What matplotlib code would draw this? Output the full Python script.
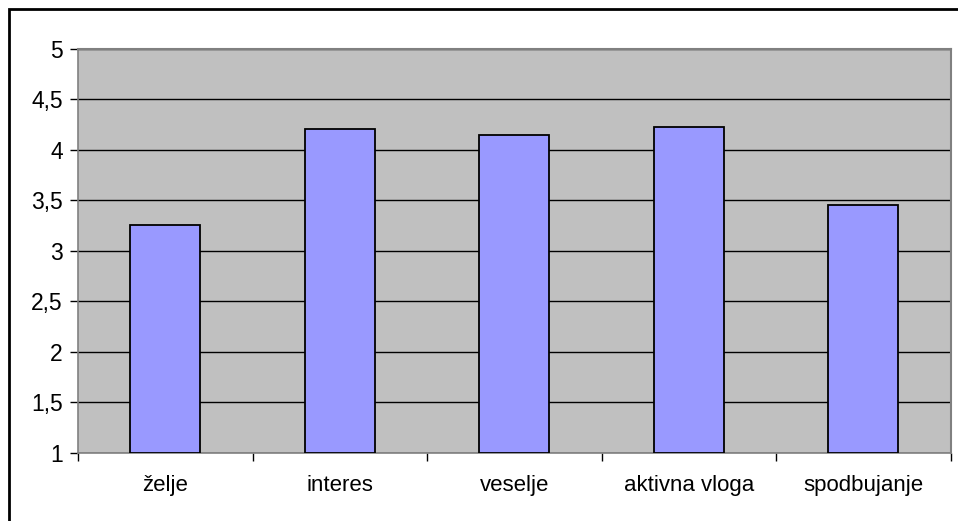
import matplotlib.pyplot as plt
import matplotlib.patches as patches
import numpy as np

plt.rcParams['font.family'] = ['Liberation Sans', 'DejaVu Sans']

categories = ['želje', 'interes', 'veselje', 'aktivna vloga', 'spodbujanje']
values = [3.26, 4.21, 4.15, 4.23, 3.45]
y_ticks = [1, 1.5, 2, 2.5, 3, 3.5, 4, 4.5, 5]
y_labels = ['1', '1,5', '2', '2,5', '3', '3,5', '4', '4,5', '5']

fig = plt.figure(figsize=(9.58, 5.21), dpi=100)
fig.patch.set_facecolor('white')

# outer chart frame (right and bottom run off the image)
frame = patches.Rectangle((8.5 / 958, -0.05), 1.0, (521 - 8.5) / 521 + 0.05,
                          transform=fig.transFigure, fill=False,
                          edgecolor='black', linewidth=2)
fig.patches.append(frame)

ax = fig.add_axes([78 / 958, 68.3 / 521, 872.5 / 958, 403.7 / 521])
ax.set_facecolor('#C0C0C0')

x = np.arange(len(categories))
ax.bar(x, [v - 1 for v in values], bottom=1, width=0.4,
       color='#9999FF', edgecolor='black', linewidth=1.3, zorder=3)

ax.set_xlim(-0.5, len(categories) - 0.5)
ax.set_ylim(1, 5)
ax.set_yticks(y_ticks)
ax.set_yticklabels(y_labels)
ax.yaxis.grid(True, color='black', linewidth=1, zorder=1)
ax.set_axisbelow(True)

ax.set_xticks(x)
ax.set_xticklabels(categories)
ax.set_xticks(np.arange(len(categories) + 1) - 0.5, minor=True)
ax.tick_params(axis='x', which='major', length=0, pad=16, labelsize=16)
ax.tick_params(axis='x', which='minor', length=6, width=1, color='black')
ax.tick_params(axis='y', length=6, width=1, pad=5, labelsize=16.5)

for side in ['top', 'right']:
    ax.spines[side].set_color('#808080')
    ax.spines[side].set_linewidth(1.5)
ax.spines['left'].set_color('#808080')
ax.spines['left'].set_linewidth(1.2)
ax.spines['bottom'].set_color('#808080')
ax.spines['bottom'].set_linewidth(1.2)

plt.savefig('out.png', dpi=100)
